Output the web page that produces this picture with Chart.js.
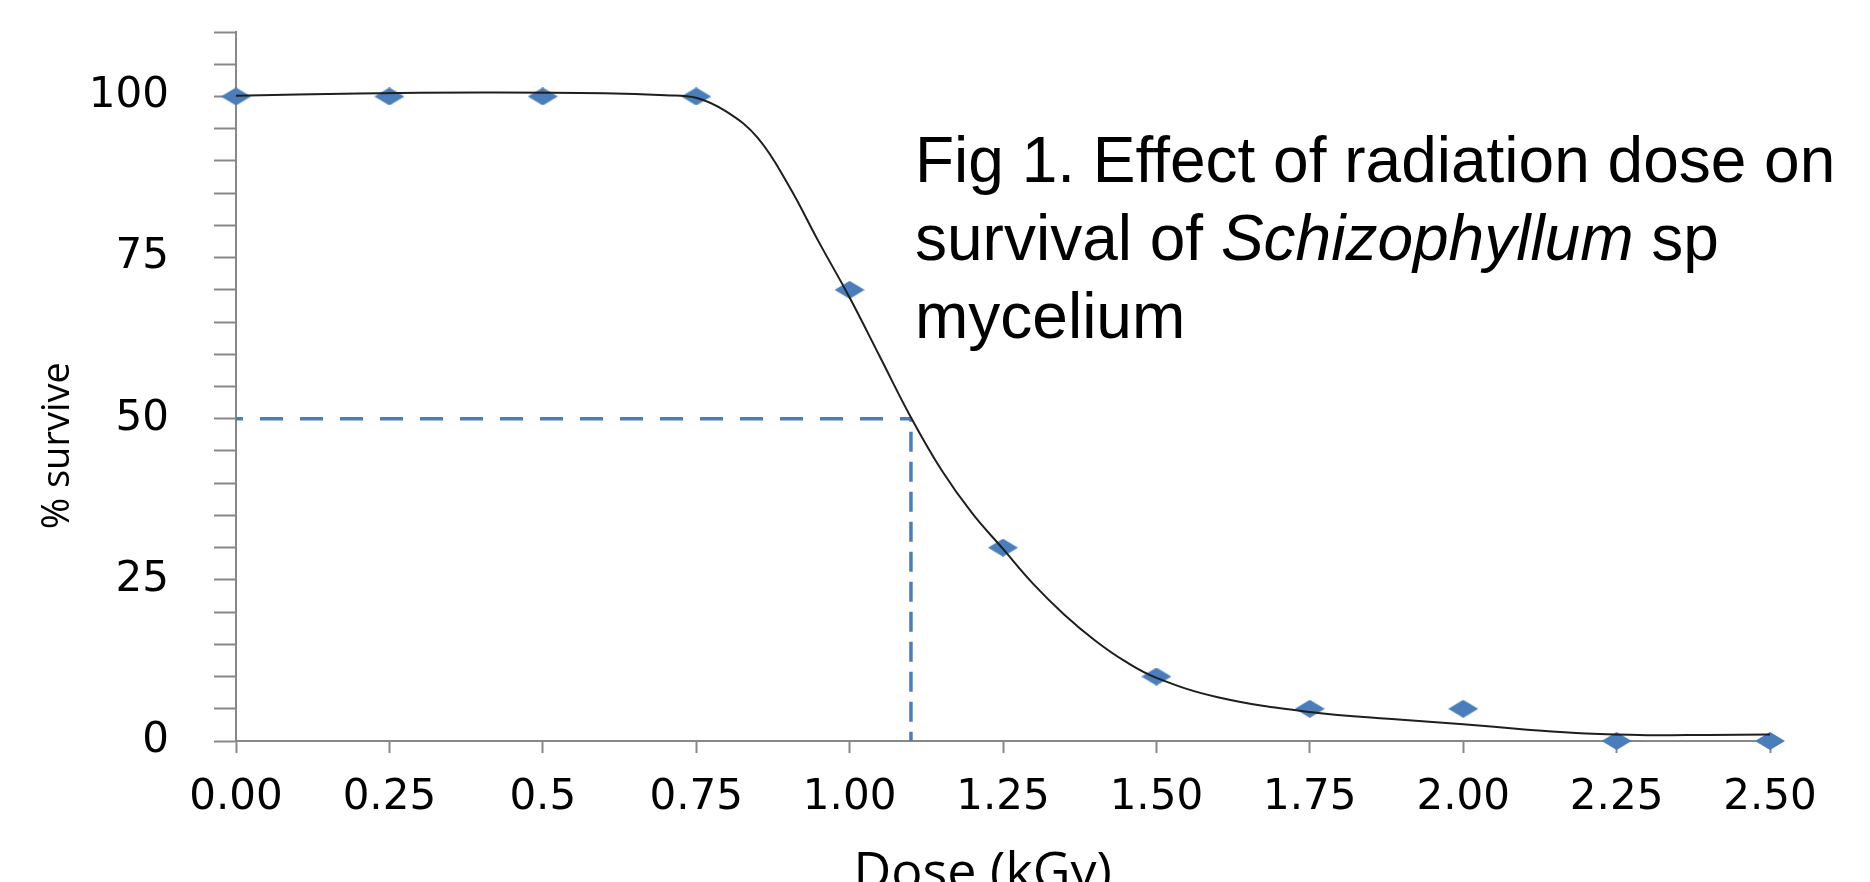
<!DOCTYPE html>
<html>
<head>
<meta charset="utf-8">
<title>Effect of radiation dose on survival</title>
<script src="https://cdn.jsdelivr.net/npm/chart.js@4.4.1/dist/chart.umd.min.js"></script>
<style>
	html, body { margin: 0; padding: 0; background: #fff; overflow: hidden; }
	#wrapper-chart { position: relative; width: 1870px; height: 905px; }
	#fig-caption {
		position: absolute; left: 915px; top: 121px;
		font-family: 'Liberation Sans', Arial, sans-serif; font-size: 64px; line-height: 78px;
		color: #000; white-space: nowrap;
	}
</style>
</head>
<body>
<div id="wrapper-chart">
	<canvas id="chart-1"></canvas>
	<div id="fig-caption">Fig 1. Effect of radiation dose on<br>survival of <i>Schizophyllum</i> sp<br>mycelium</div>
</div>
<script>
// measured points
var doseKGy = [0, 0.25, 0.5, 0.75, 1.0, 1.25, 1.5, 1.75, 2.0, 2.25, 2.5];
var survivalPct = [100, 100, 100, 100, 70, 30, 10, 5, 5, 0, 0];

// fitted curve
var fitDose = [0, 0.2, 0.4, 0.6, 0.7, 0.75, 0.8, 0.85, 0.9, 0.95, 1.0, 1.05, 1.1, 1.15, 1.2, 1.25, 1.3, 1.35, 1.4, 1.45, 1.5, 1.6, 1.75, 1.9, 2.0, 2.1, 2.2, 2.3, 2.4, 2.5];
var fitSurvival = [100.1, 100.45, 100.6, 100.5, 100.2, 99.8, 97.6, 93.6, 86.3, 77.4, 68.8, 59.5, 50.2, 42.0, 35.3, 29.8, 24.3, 19.6, 15.6, 12.3, 9.8, 6.8, 4.5, 3.3, 2.6, 1.8, 1.15, 0.9, 0.95, 1.0];

// LD50 guide: across at 50 %, then down at 1.1 kGy
var guideDose = [0, 1.1, 1.1];
var guideSurvival = [50, 50, 0];

var xTickLabels = ['0.00', '0.25', '0.5', '0.75', '1.00', '1.25', '1.50', '1.75', '2.00', '2.25', '2.50'];
var yTickLabels = [0, 25, 50, 75, 100];

var app = (function(){
	var 
		blue = '#4a7ebb'
		,axisGrey = '#888888'
		,chart;

	function init(){
		_createChart();
	}

	function _xy(xs, ys){
		return xs.map(function(x, i){ return {x: x, y: ys[i]}; });
	}

	function _diamond(){
		var c = document.createElement('canvas');
		c.width = 30;
		c.height = 18;
		var d = c.getContext('2d');
		d.fillStyle = blue;
		d.beginPath();
		d.moveTo(15, 0);
		d.lineTo(30, 9);
		d.lineTo(15, 18);
		d.lineTo(0, 9);
		d.closePath();
		d.fill();
		return c;
	}

	function _guide(from, to, dash, offset){
		return {
			label: 'LD50',
			data: _xy(guideDose.slice(from, to), guideSurvival.slice(from, to)),
			showLine: true,
			borderColor: blue,
			borderWidth: 3.5,
			borderDash: dash,
			borderDashOffset: offset,
			pointRadius: 0
		};
	}

	function _createChart(){
		var ctx = document.getElementById('chart-1');
		chart = new Chart(ctx, {
			type: 'scatter',
			data: {
				datasets: [{
					label: 'fit',
					data: _xy(fitDose, fitSurvival),
					showLine: true,
					borderColor: '#1e1e1e',
					borderWidth: 2,
					tension: 0.4,
					pointRadius: 0,
					clip: false
				}, {
					label: 'survival',
					data: _xy(doseKGy, survivalPct),
					pointStyle: _diamond(),
					pointRadius: 9,
					clip: false
				},
				_guide(0, 2, [23, 17], 16),
				_guide(1, 3, [20, 10], 17)
				]
			},
			options: {
				responsive: true,
				maintainAspectRatio: false,
				animation: false,
				layout: { padding: { top: 32, right: 100, bottom: 0, left: 0 } },
				plugins: {
					legend: { display: false },
					tooltip: { enabled: false }
				},
				scales: {
					x: {
						type: 'linear',
						min: 0,
						max: 2.5,
						border: { color: axisGrey, width: 2 },
						grid: { drawOnChartArea: false, tickLength: 12, tickColor: axisGrey, tickWidth: 2 },
						ticks: {
							stepSize: 0.25,
							padding: 20,
							color: '#000',
							font: { family: 'DejaVu Sans', size: 42 },
							maxRotation: 0,
							autoSkip: false,
							callback: function(v, i){ return xTickLabels[i]; }
						},
						title: {
							display: true,
							// trailing spaces nudge the label a little left of centre
							text: 'Dose (kGy)   ',
							color: '#000',
							font: { family: 'Open Sans', size: 52, lineHeight: 1.2 },
							padding: { top: 0, bottom: 0 }
						},
						afterFit: function(s){ s.height = 164; }
					},
					y: {
						min: 0,
						max: 110,
						border: { color: axisGrey, width: 2 },
						grid: { drawOnChartArea: false, tickLength: 22, tickColor: axisGrey, tickWidth: 2 },
						ticks: {
							stepSize: 5,
							padding: 45,
							color: '#000',
							font: { family: 'DejaVu Sans', size: 42 },
							autoSkip: false,
							callback: function(v){ return yTickLabels.indexOf(v) >= 0 ? String(v) : ''; }
						},
						title: {
							display: true,
							// trailing spaces push the label below the middle, as in the original
							text: '% survive            ',
							color: '#000',
							font: { family: 'Open Sans', size: 38, lineHeight: 1.2 },
							padding: { top: 35, bottom: 0 }
						},
						afterFit: function(s){
							s.width = 236;
							// the big label padding should not eat into the plot height
							s.paddingTop = 0;
							s.paddingBottom = 0;
						}
					}
				}
			}
		});
	}

	return {
		init: init
	};
})();

app.init();
</script>
</body>
</html>
